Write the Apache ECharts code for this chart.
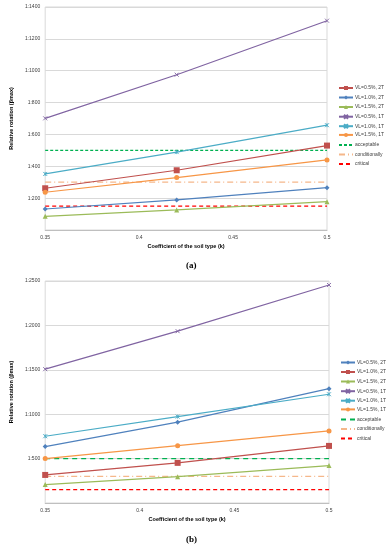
<!DOCTYPE html>
<html><head><meta charset="utf-8">
<script src="https://cdn.jsdelivr.net/npm/echarts@6/dist/echarts.min.js"></script>
<style>html,body{margin:0;padding:0;background:#fff}#c{width:389px;height:550px}</style>
</head><body><div id="c"></div>
<script>
// x positions (coefficient of soil type k)
const kValues = [0.35, 0.42, 0.5];
const xTicks = [0.35, 0.4, 0.45, 0.5];

// Chart (a)
const aNames = ['VL=0.5%, 2T','VL=1.0%, 2T','VL=1.5%, 2T','VL=0.5%, 1T','VL=1.0%, 1T','VL=1.5%, 1T'];
const a_VL05_2T = [262, 375, 530];
const a_VL10_2T = [132, 189, 266];
const a_VL15_2T = [86, 126, 178];
const a_VL05_1T = [701, 975, 1314];
const a_VL10_1T = [352, 489, 658];
const a_VL15_1T = [237, 329, 440];
const aAcceptable = 500, aConditionally = 300, aCritical = 150;

// Chart (b)
const bNames = ['VL=0.5%, 2T','VL=1.0%, 2T','VL=1.5%, 2T','VL=0.5%, 1T','VL=1.0%, 1T','VL=1.5%, 1T'];
const b_VL05_2T = [635, 910, 1288];
const b_VL10_2T = [316, 452, 643];
const b_VL15_2T = [207, 297, 421];
const b_VL05_1T = [1507, 1935, 2455];
const b_VL10_1T = [752, 973, 1225];
const b_VL15_1T = [500, 646, 812];
const bAcceptable = 500, bConditionally = 300, bCritical = 150;

const refNames = ['acceptable','conditionally','critical'];

const C = {red:'#C0504D', blue:'#4F81BD', green:'#9BBB59', purple:'#8064A2', cyan:'#4BACC6', orange:'#F79646'};
const S = {
  rect:'rect', diamond:'diamond', tri:'triangle',
  x:'path://M0,0L10,10M10,0L0,10',
  ast:'path://M0,0L10,10M10,0L0,10M5,0L5,10'
};
const FONT = 'Liberation Sans';

function pts(vals){ return kValues.map((k,i)=>[k, vals[i]]); }
function flat(v){ return [[0.35, v],[0.5, v]]; }

function dataSeries(prefix, name, vals, color, sym, idx, size){
  const stroke = (sym===S.x || sym===S.ast);
  return {
    type:'line', name: prefix+name, xAxisIndex:idx, yAxisIndex:idx,
    data: pts(vals), symbol: sym, symbolSize: size || 5, showSymbol:true,
    lineStyle:{color:color, width:1.2},
    itemStyle:{color: stroke ? 'none' : color, borderColor: color, borderWidth: stroke ? 0.9 : 0},
    z: 3
  };
}
function refSeries(prefix, name, v, color, type, idx){
  return {
    type:'line', name: prefix+name, xAxisIndex:idx, yAxisIndex:idx,
    data: flat(v), symbol:'none',
    lineStyle:{color:color, width:1.3, type:type},
    itemStyle:{color:'rgba(0,0,0,0)', borderWidth:0}, z:2
  };
}

function xAxis(idx){
  return {
    type:'value', gridIndex:idx, min:0.35, max:0.5, interval:0.05,
    name:'Coefficient of the soil type (k)', nameLocation:'middle', nameGap:13,
    nameTextStyle:{fontFamily:FONT, fontSize:5.5, fontWeight:'bold', color:'#000'},
    axisLine:{show:true, lineStyle:{color:'#bfbfbf', width:1}},
    axisTick:{show:false},
    axisLabel:{fontFamily:FONT, fontSize:5, color:'#404040', margin:5,
      formatter: v => String(Math.round(v*100)/100)},
    splitLine:{show:false}
  };
}
function yAxis(idx, max, interval){
  return {
    type:'value', gridIndex:idx, min:0, max:max, interval:interval,
    name:'Relative rotation (βmax)', nameLocation:'middle', nameGap:22,
    nameTextStyle:{fontFamily:FONT, fontSize:5.5, fontWeight:'bold', color:'#000'},
    axisLine:{show:false}, axisTick:{show:false},
    axisLabel:{fontFamily:FONT, fontSize:5, color:'#404040', margin:5,
      formatter: v => v === 0 ? '' : '1:' + v},
    splitLine:{show:true, lineStyle:{color:'#d9d9d9', width:1}}
  };
}

const series = [
  dataSeries('a:', aNames[0], a_VL05_2T, C.red, S.rect, 0, 6),
  dataSeries('a:', aNames[1], a_VL10_2T, C.blue, S.diamond, 0, 5),
  dataSeries('a:', aNames[2], a_VL15_2T, C.green, S.tri, 0, 5),
  dataSeries('a:', aNames[3], a_VL05_1T, C.purple, S.x, 0, 4),
  dataSeries('a:', aNames[4], a_VL10_1T, C.cyan, S.ast, 0, 4),
  dataSeries('a:', aNames[5], a_VL15_1T, C.orange, 'circle', 0, 5),
  refSeries('a:', refNames[0], aAcceptable, '#00B050', [3,2], 0),
  refSeries('a:', refNames[1], aConditionally, '#F5B78A', [6,3,1,3], 0),
  refSeries('a:', refNames[2], aCritical, '#FF0000', [4,3], 0),

  dataSeries('b:', bNames[0], b_VL05_2T, C.blue, S.diamond, 1, 5),
  dataSeries('b:', bNames[1], b_VL10_2T, C.red, S.rect, 1, 6),
  dataSeries('b:', bNames[2], b_VL15_2T, C.green, S.tri, 1, 5),
  dataSeries('b:', bNames[3], b_VL05_1T, C.purple, S.x, 1, 4),
  dataSeries('b:', bNames[4], b_VL10_1T, C.cyan, S.ast, 1, 4),
  dataSeries('b:', bNames[5], b_VL15_1T, C.orange, 'circle', 1, 5),
  refSeries('b:', refNames[0], bAcceptable, '#00B050', [5,4], 1),
  refSeries('b:', refNames[1], bConditionally, '#F5B78A', [6,3,1,3], 1),
  refSeries('b:', refNames[2], bCritical, '#FF0000', [4,3], 1)
];

// one legend component per entry, so every row sits at a fixed spacing
// (rows whose icon is a stroked path are laid out a little lower by the library, so nudge them up)
const rowNudge = [0, 0, 0, -1.8, -1.8, -0.6, 0, 0, 0];
function legends(prefix, names, firstCenter, step, left){
  return names.concat(refNames).map((n, i) => ({
    orient:'vertical', left:left, top: firstCenter + i*step - 5 + rowNudge[i], padding:0,
    itemWidth:14, itemHeight:5, itemGap:0,
    data:[prefix+n],
    formatter: s => s.slice(2),
    textStyle:{fontFamily:FONT, fontSize:5, color:'#404040', padding:[0,0,0,-3]},
    selectedMode:false
  }));
}

const chart = echarts.init(document.getElementById('c'), null, {renderer:'canvas'});
chart.setOption({
  backgroundColor:'#fff',
  animation:false,
  grid:[
    {left:34, top:7, width:293, height:223, show:true, borderColor:'#d9d9d9', borderWidth:1, containLabel:false},
    {left:36, top:281, width:293, height:222, show:true, borderColor:'#d9d9d9', borderWidth:1, containLabel:false}
  ],
  xAxis:[xAxis(0), xAxis(1)],
  yAxis:[yAxis(0, 1400, 200), yAxis(1, 2500, 500)],
  legend: legends('a:', aNames, 90.5, 9.5, 338).concat(legends('b:', bNames, 365, 9.5, 340)),
  graphic:[
    {type:'text', left:186, top:261, style:{text:'(a)', fontFamily:'Liberation Serif', fontSize:9, fontWeight:'bold', fill:'#000'}},
    {type:'text', left:186, top:535, style:{text:'(b)', fontFamily:'Liberation Serif', fontSize:9, fontWeight:'bold', fill:'#000'}}
  ],
  series: series
});
</script></body></html>
